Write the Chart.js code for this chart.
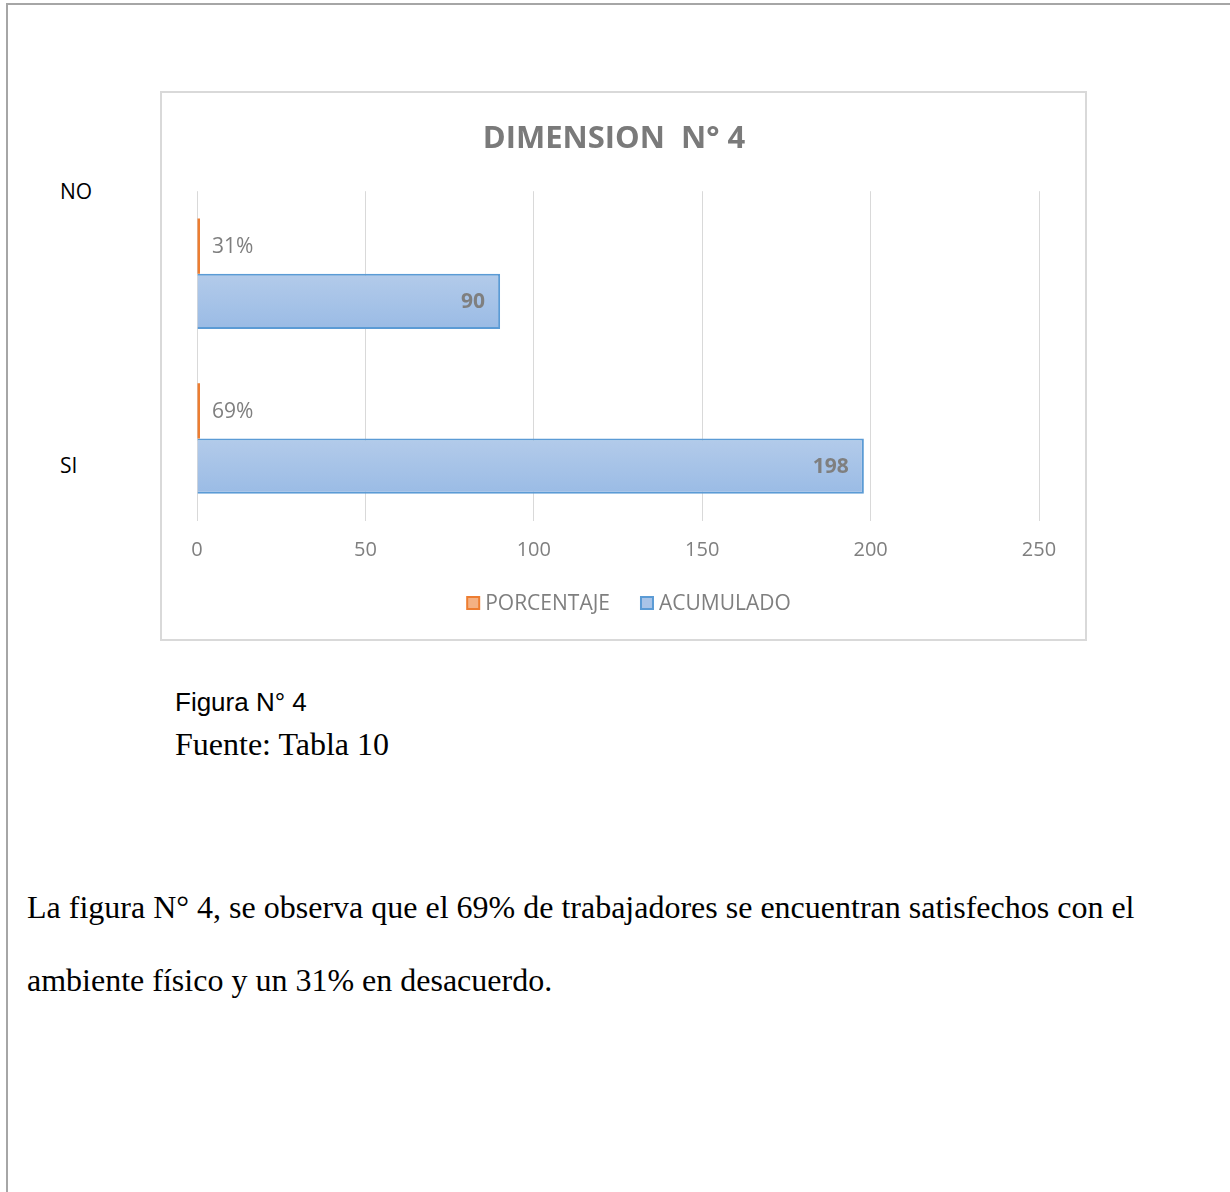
<!DOCTYPE html>
<html>
<head>
<meta charset="utf-8">
<script src="https://cdn.jsdelivr.net/npm/chart.js@4.4.1/dist/chart.umd.min.js"></script>
<style>
  html, body { margin: 0; padding: 0; background: #fff; }
  body { width: 1230px; height: 1192px; position: relative; overflow: hidden; }
  .hoja { position: absolute; left: 6px; top: 3px; right: -10px; bottom: -10px;
          border-left: 2px solid #a6a6a6; border-top: 2px solid #a6a6a6; }
  .caja { position: absolute; left: 160px; top: 91px; width: 923px; height: 546px;
          border: 2px solid #d9d9d9; }
  .cat { position: absolute; left: 60px; font: 21px "Open Sans", sans-serif; color: #000; }
  .figura { position: absolute; left: 175px; top: 687px; font: 26px "Liberation Sans", Arial, sans-serif; color: #000; }
  .fuente { position: absolute; left: 175px; top: 726px; font: 32px "Liberation Serif", "Times New Roman", serif; color: #000; }
  .texto { position: absolute; left: 27px; top: 871px; width: 1190px;
           font: 32px/73px "Liberation Serif", "Times New Roman", serif; color: #000; }
</style>
</head>
<body>
<div class="hoja"></div>
<div class="caja"><canvas id="grafica" width="923" height="546"></canvas></div>
<div class="cat" id="catNo" style="top:177px"></div>
<div class="cat" id="catSi" style="top:451px"></div>
<div class="figura">Figura N° 4</div>
<div class="fuente">Fuente: Tabla 10</div>
<div class="texto">La figura N° 4, se observa que el 69% de trabajadores se encuentran satisfechos con el<br>ambiente físico y un 31% en desacuerdo.</div>

<script>
// Datos de la figura
const categorias = ['NO', 'SI'];
const porcentaje = [0.31, 0.69];
const acumulado = [90, 198];
const ticksX = [0, 50, 100, 150, 200, 250];

const grisTexto = '#7f7f7f';

document.getElementById('catNo').textContent = categorias[0];
document.getElementById('catSi').textContent = categorias[1];

// Degradado azul para cada barra de ACUMULADO
function degradadoAzul(context) {
    const chart = context.chart;
    const y = chart.scales && chart.scales.y;
    if (!chart.chartArea || !y || context.dataIndex === undefined) return '#a5c2e7';
    const centro = y.getPixelForValue(context.dataIndex);
    const banda = Math.abs(y.getPixelForValue(1) - y.getPixelForValue(0)) * 0.67 / 2;
    const g = chart.ctx.createLinearGradient(0, centro, 0, centro + banda);
    g.addColorStop(0, '#b3cbea');
    g.addColorStop(1, '#9abbe5');
    return g;
}

// Etiquetas de datos
const etiquetas = {
    id: 'etiquetas',
    afterDatasetsDraw(chart) {
        const ctx = chart.ctx;
        ctx.save();
        ctx.textBaseline = 'middle';
        chart.getDatasetMeta(0).data.forEach((bar, i) => {
            ctx.font = '21px "Open Sans", sans-serif';
            ctx.fillStyle = grisTexto;
            ctx.textAlign = 'left';
            ctx.fillText(Math.round(porcentaje[i] * 100) + '%', bar.x + 12, bar.y + 1);
        });
        chart.getDatasetMeta(1).data.forEach((bar, i) => {
            ctx.font = 'bold 21px "Open Sans", sans-serif';
            ctx.fillStyle = grisTexto;
            ctx.textAlign = 'right';
            ctx.fillText(String(acumulado[i]), bar.x - 15, bar.y + 1);
        });
        ctx.restore();
    }
};

// Leyenda dibujada a mano (estilo Excel)
const leyenda = {
    id: 'leyenda',
    afterDraw(chart) {
        const ctx = chart.ctx;
        const items = [
            { texto: chart.data.datasets[0].label, relleno: '#f4b183', borde: '#ed7d31' },
            { texto: chart.data.datasets[1].label, relleno: '#a9c4e8', borde: '#5b9bd5' }
        ];
        const caja = 14, hueco = 5, separa = 30;
        ctx.save();
        ctx.font = '21px "Open Sans", sans-serif';
        ctx.textBaseline = 'middle';
        ctx.textAlign = 'left';
        const anchos = items.map(it => caja + hueco + ctx.measureText(it.texto).width);
        const total = anchos.reduce((a, b) => a + b, 0) + separa * (items.length - 1);
        let x = chart.width / 2 + 5 - total / 2;
        const y = chart.height - 36;
        items.forEach((it, i) => {
            ctx.fillStyle = it.relleno;
            ctx.strokeStyle = it.borde;
            ctx.lineWidth = 2;
            ctx.fillRect(x + 1, y - caja / 2 + 1, caja - 2, caja - 2);
            ctx.strokeRect(x + 1, y - caja / 2 + 1, caja - 2, caja - 2);
            ctx.fillStyle = grisTexto;
            ctx.fillText(it.texto, x + caja + hueco, y + 1);
            x += anchos[i] + separa;
        });
        ctx.restore();
    }
};

new Chart(document.getElementById('grafica'), {
    type: 'bar',
    data: {
        labels: categorias,
        datasets: [
            {
                label: 'PORCENTAJE',
                data: porcentaje,
                backgroundColor: '#ed7d31',
                borderWidth: 0,
                minBarLength: 3,
                categoryPercentage: 0.67,
                barPercentage: 1
            },
            {
                label: 'ACUMULADO',
                data: acumulado,
                backgroundColor: degradadoAzul,
                borderColor: '#5b9bd5',
                borderWidth: 2,
                categoryPercentage: 0.67,
                barPercentage: 1
            }
        ]
    },
    options: {
        indexAxis: 'y',
        responsive: false,
        animation: false,
        layout: { padding: { left: 27, right: 46, top: 0, bottom: 60 } },
        plugins: {
            title: {
                display: true,
                text: 'DIMENSION  N° 4',
                color: '#7a7a7a',
                font: { family: 'Open Sans', size: 31, weight: 'bold' },
                padding: { top: 28, bottom: 33 }
            },
            legend: { display: false },
            tooltip: { enabled: false }
        },
        scales: {
            x: {
                min: 0,
                max: 250,
                afterBuildTicks(scale) {
                    scale.ticks = ticksX.map(v => ({ value: v }));
                },
                grid: { color: '#d9d9d9', lineWidth: 1, drawTicks: false },
                border: { display: false },
                ticks: {
                    color: grisTexto,
                    font: { family: 'Open Sans', size: 20 },
                    padding: 17
                }
            },
            y: {
                grid: { display: false },
                border: { display: false },
                ticks: { display: false }
            }
        }
    },
    plugins: [etiquetas, leyenda]
});
</script>
</body>
</html>
